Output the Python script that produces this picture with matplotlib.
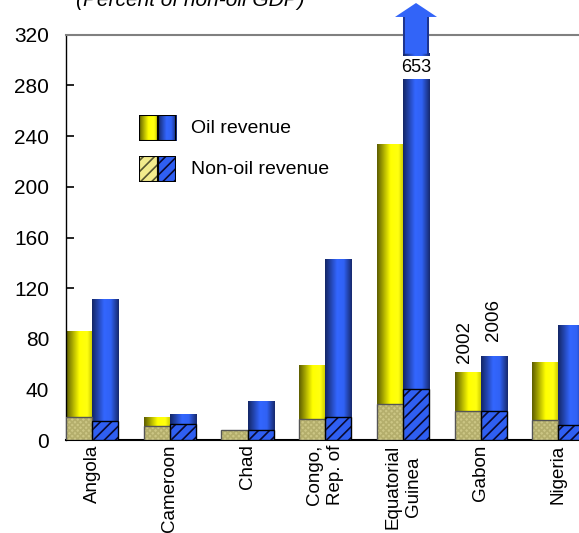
import numpy as np
import matplotlib

matplotlib.use("Agg")
import matplotlib.pyplot as plt
from matplotlib.colors import LinearSegmentedColormap
from matplotlib.patches import Rectangle, Polygon

plt.rcParams["font.family"] = ["Liberation Sans", "DejaVu Sans"]
plt.rcParams["hatch.linewidth"] = 1.2

# ── Data ────────────────────────────────────────────────────────────────
countries = ["Angola", "Cameroon", "Chad", "Congo,\nRep. of", "Equatorial\nGuinea", "Gabon", "Nigeria"]
total_2002 = [86, 18, 8, 59, 233, 54, 61]
nonoil_2002 = [18.5, 11.5, 8, 17, 28.5, 23.5, 16]
total_2006 = [111, 20, 31, 143, 653, 66, 90.5]
nonoil_2006 = [15, 12.5, 8.5, 18.5, 40.5, 23, 12]
y_ticks = [0, 40, 80, 120, 160, 200, 240, 280, 320]
title = "(Percent of non-oil GDP)"

Y_MAX = 320
CAP = 305          # where an off-scale bar is cut
BAR_W = 0.335
FS_V = 13.5        # rotated text
FS_H = 14          # horizontal text

yellow_cm = LinearSegmentedColormap.from_list(
    "yel", [(0, "#5e5e00"), (0.5, "#ffff00"), (0.8, "#ffff10"), (1.0, "#c4c400")])
blue_cm = LinearSegmentedColormap.from_list(
    "blu", [(0, "#142766"), (0.45, "#3366ff"), (0.7, "#3062f5"), (1.0, "#17296e")])
grad = np.linspace(0, 1, 64)[None, :]


def gradient_bar(ax, x0, x1, y0, y1, cmap, zorder=2):
    ax.imshow(grad, cmap=cmap, extent=[x0, x1, y0, y1], aspect="auto",
              interpolation="bilinear", zorder=zorder)


def nonoil_bar(ax, x0, y1, blue, zorder=3):
    if blue:
        ax.add_patch(Rectangle((x0, 0), BAR_W, y1, facecolor="#2f5ff2", edgecolor="#0a0a30",
                               hatch="///", linewidth=0, zorder=zorder))
        ax.add_patch(Rectangle((x0, 0), BAR_W, y1, facecolor="none", edgecolor="black",
                               linewidth=1.0, zorder=zorder + 0.1))
    else:
        ax.add_patch(Rectangle((x0, 0), BAR_W, y1, facecolor="#ccc685", edgecolor="#b4ae6c",
                               hatch="xxxxxx", linewidth=0, zorder=zorder))
        ax.add_patch(Rectangle((x0, 0), BAR_W, y1, facecolor="none", edgecolor="#555555",
                               linewidth=1.0, zorder=zorder + 0.1))


fig = plt.figure(figsize=(5.79, 5.33), dpi=100)
W, H = 579, 533
ax = fig.add_axes([66 / W, (H - 440.3) / H, 518.5 / W, 405.6 / H])

x = np.arange(len(countries))
for i in x:
    xl = i - BAR_W
    xr = i
    # 2002
    if total_2002[i] > nonoil_2002[i]:
        gradient_bar(ax, xl, xl + BAR_W, nonoil_2002[i], total_2002[i], yellow_cm)
    nonoil_bar(ax, xl, nonoil_2002[i], blue=False)
    # 2006
    top = min(total_2006[i], CAP)
    gradient_bar(ax, xr, xr + BAR_W, nonoil_2006[i], top, blue_cm)
    nonoil_bar(ax, xr, nonoil_2006[i], blue=True)
    if total_2006[i] > Y_MAX:
        cx = xr + BAR_W / 2
        # white break with the true value
        ax.add_patch(Rectangle((xr - 0.02, CAP - 20), BAR_W + 0.04, 18, facecolor="white",
                               edgecolor="none", zorder=5))
        ax.text(cx, CAP - 11, f"{total_2006[i]:g}", ha="center", va="center",
                fontsize=13, zorder=6)
        head_w = 0.27
        arrow = Polygon([(xr, CAP), (xr, 334), (cx - head_w, 334), (cx, 345),
                         (cx + head_w, 334), (xr + BAR_W, 334), (xr + BAR_W, CAP)],
                        closed=True, facecolor="#3264f8", edgecolor="none",
                        clip_on=False, zorder=6)
        ax.add_patch(arrow)
        ax.add_patch(Rectangle((xr, CAP), 0.03, 29, facecolor="#1d3590", edgecolor="none",
                               clip_on=False, zorder=6.1))
        ax.add_patch(Rectangle((xr + BAR_W - 0.03, CAP), 0.03, 29, facecolor="#1d3590",
                               edgecolor="none", clip_on=False, zorder=6.1))

# year labels above Gabon
g = countries.index("Gabon")
ax.text(g - BAR_W / 2 - 0.04, total_2002[g] + 7, "2002", rotation=90, ha="center",
        va="bottom", fontsize=FS_V)
ax.text(g + BAR_W / 2, total_2006[g] + 12, "2006", rotation=90, ha="center",
        va="bottom", fontsize=FS_V)

ax.set_xlim(-BAR_W, len(countries) - 1 + BAR_W)
ax.set_ylim(0, Y_MAX)
ax.set_yticks(y_ticks)
ax.set_yticklabels([str(v) for v in y_ticks], fontsize=15)
ax.tick_params(axis="y", direction="in", length=6, width=1.2, pad=12)
ax.set_xticks(x)
ax.set_xticklabels(countries, rotation=90, fontsize=FS_V, va="top", ha="center",
                   linespacing=1.3)
ax.tick_params(axis="x", length=0, pad=3)
ax.spines["right"].set_visible(False)
ax.spines["top"].set_color("#808080")
ax.spines["top"].set_linewidth(1.5)
ax.spines["left"].set_linewidth(1.0)
ax.spines["bottom"].set_linewidth(1.5)

# legend drawn by hand
for row, (label, y_top) in enumerate([("Oil revenue", 115), ("Non-oil revenue", 156)]):
    lax = fig.add_axes([139 / W, (H - y_top - 26) / H, 37 / W, 26 / H])
    if row == 0:
        gradient_bar(lax, 0, BAR_W, 0, 1, yellow_cm)
        gradient_bar(lax, BAR_W, 2 * BAR_W, 0, 1, blue_cm)
    else:
        lax.add_patch(Rectangle((0, 0), BAR_W, 1, facecolor="#f2eb8c", edgecolor="#555530",
                                hatch="///", linewidth=0))
        lax.add_patch(Rectangle((BAR_W, 0), BAR_W, 1, facecolor="#2f5ff2", edgecolor="#0a0a30",
                                hatch="///", linewidth=0))
    lax.add_patch(Rectangle((0, 0), BAR_W, 1, facecolor="none", edgecolor="black",
                            linewidth=1.5, zorder=4))
    lax.add_patch(Rectangle((BAR_W, 0), BAR_W, 1, facecolor="none", edgecolor="black",
                            linewidth=1.5, zorder=4))
    lax.set_xlim(0, 2 * BAR_W)
    lax.set_ylim(0, 1)
    lax.axis("off")
    fig.text(191 / W, 1 - (y_top + 14) / H, label, fontsize=FS_H, va="center", ha="left")

fig.text(76 / W, 1 - 6 / H, title, fontsize=15, style="italic", va="baseline", ha="left")

fig.savefig("out.png", dpi=100)
